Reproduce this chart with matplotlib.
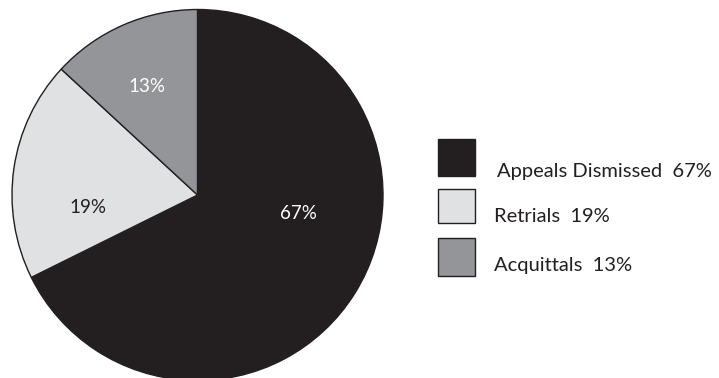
import matplotlib
matplotlib.use("Agg")
import matplotlib.pyplot as plt
from matplotlib.patches import Rectangle

plt.rcParams['font.family'] = ['Lato', 'DejaVu Sans']

# Outcome shares
categories = ["Appeals Dismissed", "Retrials", "Acquittals"]
values = [67, 19, 13]
colors = ["#231f20", "#e0e1e3", "#939598"]
label_colors = ["white", "#231f20", "white"]

W, H = 719, 378
fig = plt.figure(figsize=(W / 100, H / 100), dpi=100)

# Pie axes, sized in pixels so the circle lands where wanted
cx, cy, r = 197.5, 183, 185.5
ax = fig.add_axes([(cx - r) / W, (cy - r) / H, 2 * r / W, 2 * r / H])
wedges, texts, autotexts = ax.pie(
    values, colors=colors, startangle=90, counterclock=False,
    autopct=lambda p: "", radius=1.0,
    wedgeprops=dict(edgecolor="#231f20", linewidth=1.0),
)
ax.set_xlim(-1, 1)
ax.set_ylim(-1, 1)
ax.axis("off")

# Percentage labels inside each slice (radius units)
label_pos = [(0.545, -0.10), (-0.59, -0.065), (-0.27, 0.585)]
for t, v, pos, c in zip(autotexts, values, label_pos, label_colors):
    t.set_text(f"{v}%")
    t.set_position(pos)
    t.set_color(c)
    t.set_fontsize(13.5)
    t.set_ha("center")
    t.set_va("center")

# Hand-built legend: swatch boxes and their text, in pixel coords
boxes = [(438, 139, 37, 37), (438, 189, 37, 34), (438, 238, 37, 38)]
text_pos = [(497, 172), (494, 217), (494, 265)]
for (bx, by, bw, bh), (tx, ty), name, v, c in zip(boxes, text_pos, categories, values, colors):
    fig.patches.append(Rectangle((bx / W, 1 - (by + bh) / H), bw / W, bh / H,
                                 transform=fig.transFigure, facecolor=c,
                                 edgecolor="#231f20", linewidth=1.0))
    fig.text(tx / W, 1 - ty / H, f"{name}  {v}%", fontsize=14.5,
             color="#231f20", ha="left", va="center")

fig.savefig("out.png", dpi=100)
